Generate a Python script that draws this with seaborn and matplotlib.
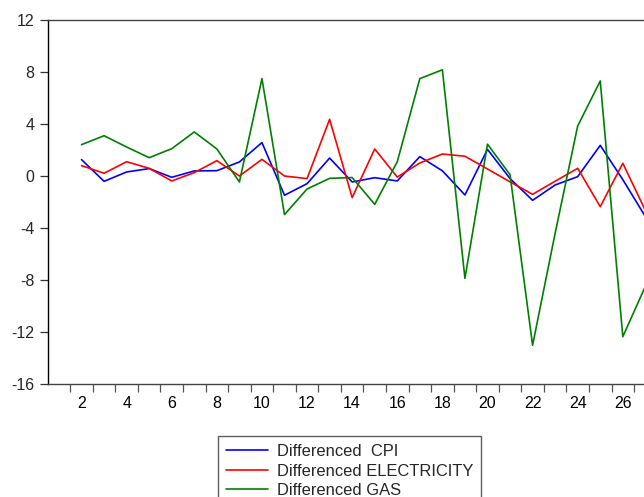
import numpy as np
import pandas as pd
import matplotlib
matplotlib.use("Agg")
import matplotlib.pyplot as plt
import seaborn as sns

# Observations (first difference, so the series start at obs 2)
obs = list(range(2, 28))

cpi = [1.26, -0.41, 0.31, 0.57, -0.10, 0.39, 0.41, 1.08, 2.57, -1.48,
       -0.59, 1.38, -0.46, -0.13, -0.38, 1.49, 0.40, -1.46, 2.05, -0.20,
       -1.87, -0.69, -0.05, 2.36, -0.28, -3.12]
electricity = [0.80, 0.21, 1.10, 0.59, -0.38, 0.26, 1.18, 0.00, 1.28, 0.00,
               -0.20, 4.36, -1.66, 2.08, -0.08, 1.00, 1.69, 1.52, 0.54, -0.45,
               -1.41, -0.40, 0.59, -2.36, 0.98, -2.65]
gas = [2.41, 3.10, 2.23, 1.41, 2.10, 3.39, 2.08, -0.46, 7.49, -2.97,
       -1.00, -0.18, -0.12, -2.18, 1.10, 7.49, 8.17, -7.87, 2.45, 0.10,
       -13.02, -4.40, 3.85, 7.31, -12.36, -8.49]

series_names = ["Differenced  CPI", "Differenced ELECTRICITY", "Differenced GAS"]
series_colors = ["#0000ff", "#ff0000", "#008000"]

y_ticks = list(range(-16, 13, 4))
x_label_ticks = list(range(2, 27, 2))

df = pd.concat([
    pd.DataFrame({"obs": obs, "value": vals, "series": name})
    for name, vals in zip(series_names, [cpi, electricity, gas])
], ignore_index=True)

sns.set_style("white")
plt.rcParams["font.family"] = ["Liberation Sans", "DejaVu Sans"]

fig = plt.figure(figsize=(6.44, 4.97), dpi=100)
ax = fig.add_axes([47.7 / 644, 1 - 384 / 497, 1 - 47.7 / 644, (384 - 20) / 497])

sns.lineplot(data=df, x="obs", y="value", hue="series", hue_order=series_names,
             palette=dict(zip(series_names, series_colors)), linewidth=1.2,
             ax=ax, legend=True)

handles, labels = ax.get_legend_handles_labels()
ax.get_legend().remove()

ax.set_xlim(0.5, 26.94)
ax.set_ylim(-16, 12)
ax.set_xlabel("")
ax.set_ylabel("")

# Boundary ticks between observations, labels centred on even observations
ax.set_xticks(np.arange(1.5, 27, 1.0))
ax.set_xticklabels([])
ax.set_xticks(x_label_ticks, minor=True)
ax.set_xticklabels([str(v) for v in x_label_ticks], minor=True)
ax.tick_params(axis="x", which="major", direction="out", length=5.5,
               width=0.9, color="#555555", bottom=True)
ax.tick_params(axis="x", which="minor", length=0, pad=8.5,
               labelsize=11.5, labelcolor="black")

ax.set_yticks(y_ticks)
ax.set_yticklabels([str(v) for v in y_ticks])
ax.tick_params(axis="y", direction="out", length=5.5, width=0.9,
               color="#333333", left=True, pad=4, labelsize=11.5)

ax.spines["left"].set_color("black")
ax.spines["left"].set_linewidth(1.0)
for side in ["top", "bottom"]:
    ax.spines[side].set_color("#444444")
    ax.spines[side].set_linewidth(1.0)
ax.spines["right"].set_visible(False)
ax.grid(False)

leg = fig.legend(handles, labels, loc="upper left",
                 bbox_to_anchor=(218 / 644, 1 - 436 / 497),
                 bbox_transform=fig.transFigure, borderaxespad=0,
                 frameon=True, fancybox=False, shadow=False,
                 fontsize=11.9, handlelength=2.5, handletextpad=0.55,
                 labelspacing=0.27, borderpad=0.5)
leg.get_frame().set_edgecolor("#333333")
leg.get_frame().set_linewidth(1.0)
for line in leg.get_lines():
    line.set_linewidth(1.2)

fig.savefig("out.png", dpi=100)
